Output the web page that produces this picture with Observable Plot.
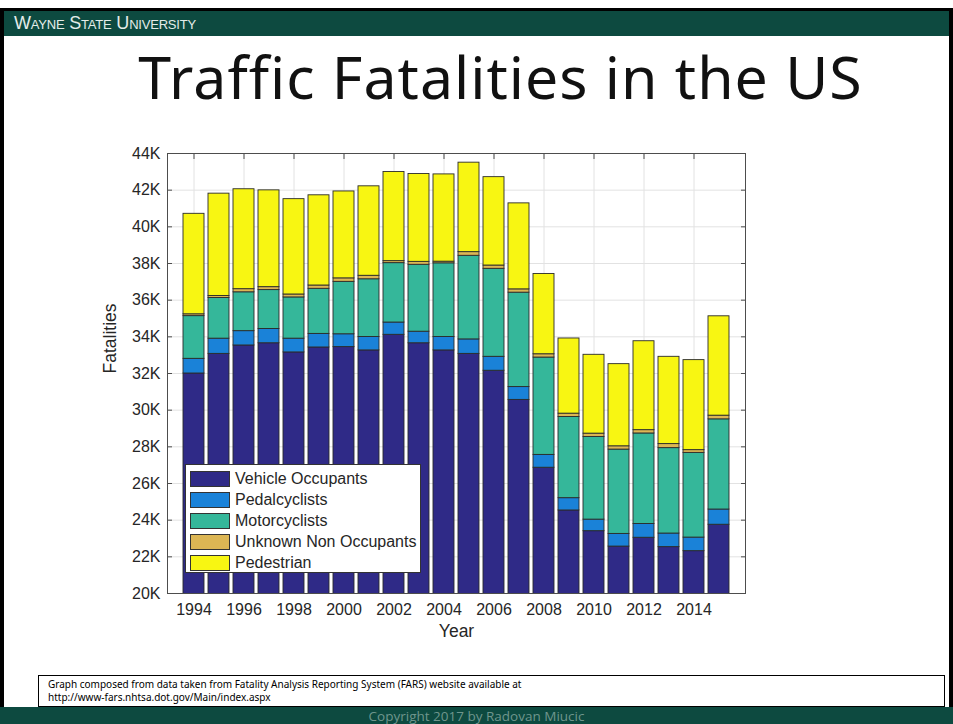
<!DOCTYPE html>
<html>
<head>
<meta charset="utf-8">
<script src="https://cdn.jsdelivr.net/npm/d3@7"></script>
<script src="https://cdn.jsdelivr.net/npm/@observablehq/plot@0.6"></script>
<style>
  html, body { margin: 0; padding: 0; background: #fff; }
  #slide { position: relative; width: 953px; height: 724px; overflow: hidden; background: #fff; }
  #frameL { position: absolute; left: 0; top: 8px; width: 4px; height: 716px; background: #000; }
  #frameR { position: absolute; right: 0; top: 8px; width: 4px; height: 716px; background: #000; }
  #header { position: absolute; left: 0; top: 8px; width: 953px; height: 28px; background: #0d4a40; border-top: 3px solid #000; box-sizing: border-box; }
  #header span { position: absolute; left: 14px; top: 2px; color: #e4ece9; font-family: "Liberation Sans", Arial, sans-serif; font-size: 18px; font-variant: small-caps; letter-spacing: -0.2px; }
  #title { position: absolute; left: 24px; top: 36px; width: 953px; text-align: center; font-family: "Comic Sans MS", "Noto Sans", sans-serif; font-size: 59px; letter-spacing: 1px; line-height: 80px; color: #111; }
  #chart { position: absolute; left: 0; top: 140px; }
  #legend { position: absolute; left: 185px; top: 464px; width: 236px; height: 109px; background: #fff; border: 1px solid #333; box-sizing: border-box; font-family: "Liberation Sans", Arial, sans-serif; font-size: 16px; color: #262626; padding-top: 3px; }
  #legend .row { height: 21px; display: flex; align-items: center; }
  #legend .sw { width: 40px; height: 16px; border: 1px solid #333; box-sizing: border-box; margin-left: 4px; margin-right: 5px; }
  #caption { position: absolute; left: 38px; top: 675px; width: 907px; height: 32px; border: 1px solid #000; box-sizing: border-box; font-family: "Comic Sans MS", "Noto Sans", sans-serif; font-size: 10px; line-height: 13px; padding: 2px 0 0 9px; color: #000; background: #fff; }
  #footer { position: absolute; left: 0; top: 707px; width: 953px; height: 17px; background: #0d4a40; text-align: center; color: #6f968d; font-family: "Open Sans", sans-serif; font-size: 13.5px; line-height: 19px; }
</style>
</head>
<body>
<div id="slide">
  <div id="header"><span>Wayne State University</span></div>
  <div id="frameL"></div>
  <div id="frameR"></div>
  <div id="title">Traffic Fatalities in the US</div>
  <div id="chart"></div>
  <div id="legend"></div>
  <div id="caption">Graph composed from data taken from Fatality Analysis Reporting System (FARS) website available at<br>http://www-fars.nhtsa.dot.gov/Main/index.aspx</div>
  <div id="footer">Copyright 2017 by Radovan Miucic</div>
</div>
<script>
// ---- data ----
const years = [1994,1995,1996,1997,1998,1999,2000,2001,2002,2003,2004,2005,2006,2007,2008,2009,2010,2011,2012,2013,2014,2015];
const seriesNames = ["Vehicle Occupants","Pedalcyclists","Motorcyclists","Unknown Non Occupants","Pedestrian"];
const seriesColors = ["#2f2a87","#1a82d8","#35b79a","#dcb654","#f8f612"];
const vehicleOccupants = [32000,33070,33530,33650,33150,33420,33440,33260,34110,33650,33260,33070,32150,30560,26860,24530,23400,22560,23040,22530,22310,23750];
const pedalcyclists    = [800,830,780,780,750,740,700,730,670,630,730,790,760,700,700,670,630,690,750,740,740,830];
const motorcyclists    = [2330,2220,2120,2120,2250,2460,2860,3150,3240,3650,4020,4560,4800,5150,5310,4430,4510,4600,4940,4660,4620,4920];
const unknownNonOcc    = [100,110,170,160,160,180,190,190,110,160,90,200,180,180,180,180,180,180,180,220,150,200];
const pedestrian       = [5480,5580,5450,5280,5200,4920,4740,4880,4860,4790,4760,4880,4820,4690,4380,4100,4300,4480,4850,4760,4910,5420];
const xTickYears = [1994,1996,1998,2000,2002,2004,2006,2008,2010,2012,2014];
const yTicks = [20000,22000,24000,26000,28000,30000,32000,34000,36000,38000,40000,42000,44000];

const seriesValues = [vehicleOccupants, pedalcyclists, motorcyclists, unknownNonOcc, pedestrian];
const table = [];
seriesNames.forEach((s, i) => years.forEach((yr, j) => table.push({year: yr, series: s, value: seriesValues[i][j]})));

const font = "'Liberation Sans', Arial, Helvetica, sans-serif";
const axisColor = "#4d4d4d";
const textColor = "#262626";
const fmt = d => (d / 1000) + "K";

const chart = Plot.plot({
  width: 953,
  height: 510,
  marginLeft: 167,
  marginRight: 208,
  marginTop: 13,
  marginBottom: 57,
  style: {fontFamily: font, fontSize: "16px", color: textColor, background: "transparent"},
  x: {type: "band", domain: years, paddingInner: 0.18, paddingOuter: 0.585, label: null},
  y: {domain: [20000, 44000], label: null},
  color: {domain: seriesNames, range: seriesColors},
  marks: [
    Plot.gridX(xTickYears, {stroke: "#e2e2e2", strokeOpacity: 1}),
    Plot.gridY(yTicks, {stroke: "#e2e2e2", strokeOpacity: 1}),
    Plot.barY(table, {x: "year", y: "value", fill: "series", order: seriesNames, stroke: "#2a2a2a", strokeWidth: 0.9, clip: true}),
    Plot.frame({stroke: axisColor, strokeWidth: 1}),
    Plot.axisY(yTicks, {anchor: "left", tickSize: 0, tickPadding: 7, tickFormat: fmt, fontSize: 16, fill: textColor, label: null}),
    Plot.axisY(yTicks, {anchor: "left", tickSize: -5, text: null, stroke: axisColor, label: null}),
    Plot.axisY(yTicks, {anchor: "right", tickSize: -5, text: null, stroke: axisColor, label: null}),
    Plot.axisX(xTickYears, {anchor: "bottom", tickSize: 0, tickPadding: 10, tickFormat: d => String(d), fontSize: 16, fill: textColor, label: null}),
    Plot.axisX(xTickYears, {anchor: "top", tickSize: -5, text: null, stroke: axisColor, label: null}),
    Plot.text(["Fatalities"], {frameAnchor: "left", dx: -57, rotate: -90, fontSize: 17.5, fill: textColor}),
    Plot.text(["Year"], {frameAnchor: "bottom", dy: 43, fontSize: 17.5, fill: textColor})
  ]
});
document.getElementById("chart").appendChild(chart);

// legend
const leg = document.getElementById("legend");
seriesNames.forEach((s, i) => {
  const row = document.createElement("div");
  row.className = "row";
  const sw = document.createElement("div");
  sw.className = "sw";
  sw.style.background = seriesColors[i];
  const t = document.createElement("span");
  t.textContent = s;
  row.appendChild(sw);
  row.appendChild(t);
  leg.appendChild(row);
});
</script>
</body>
</html>
